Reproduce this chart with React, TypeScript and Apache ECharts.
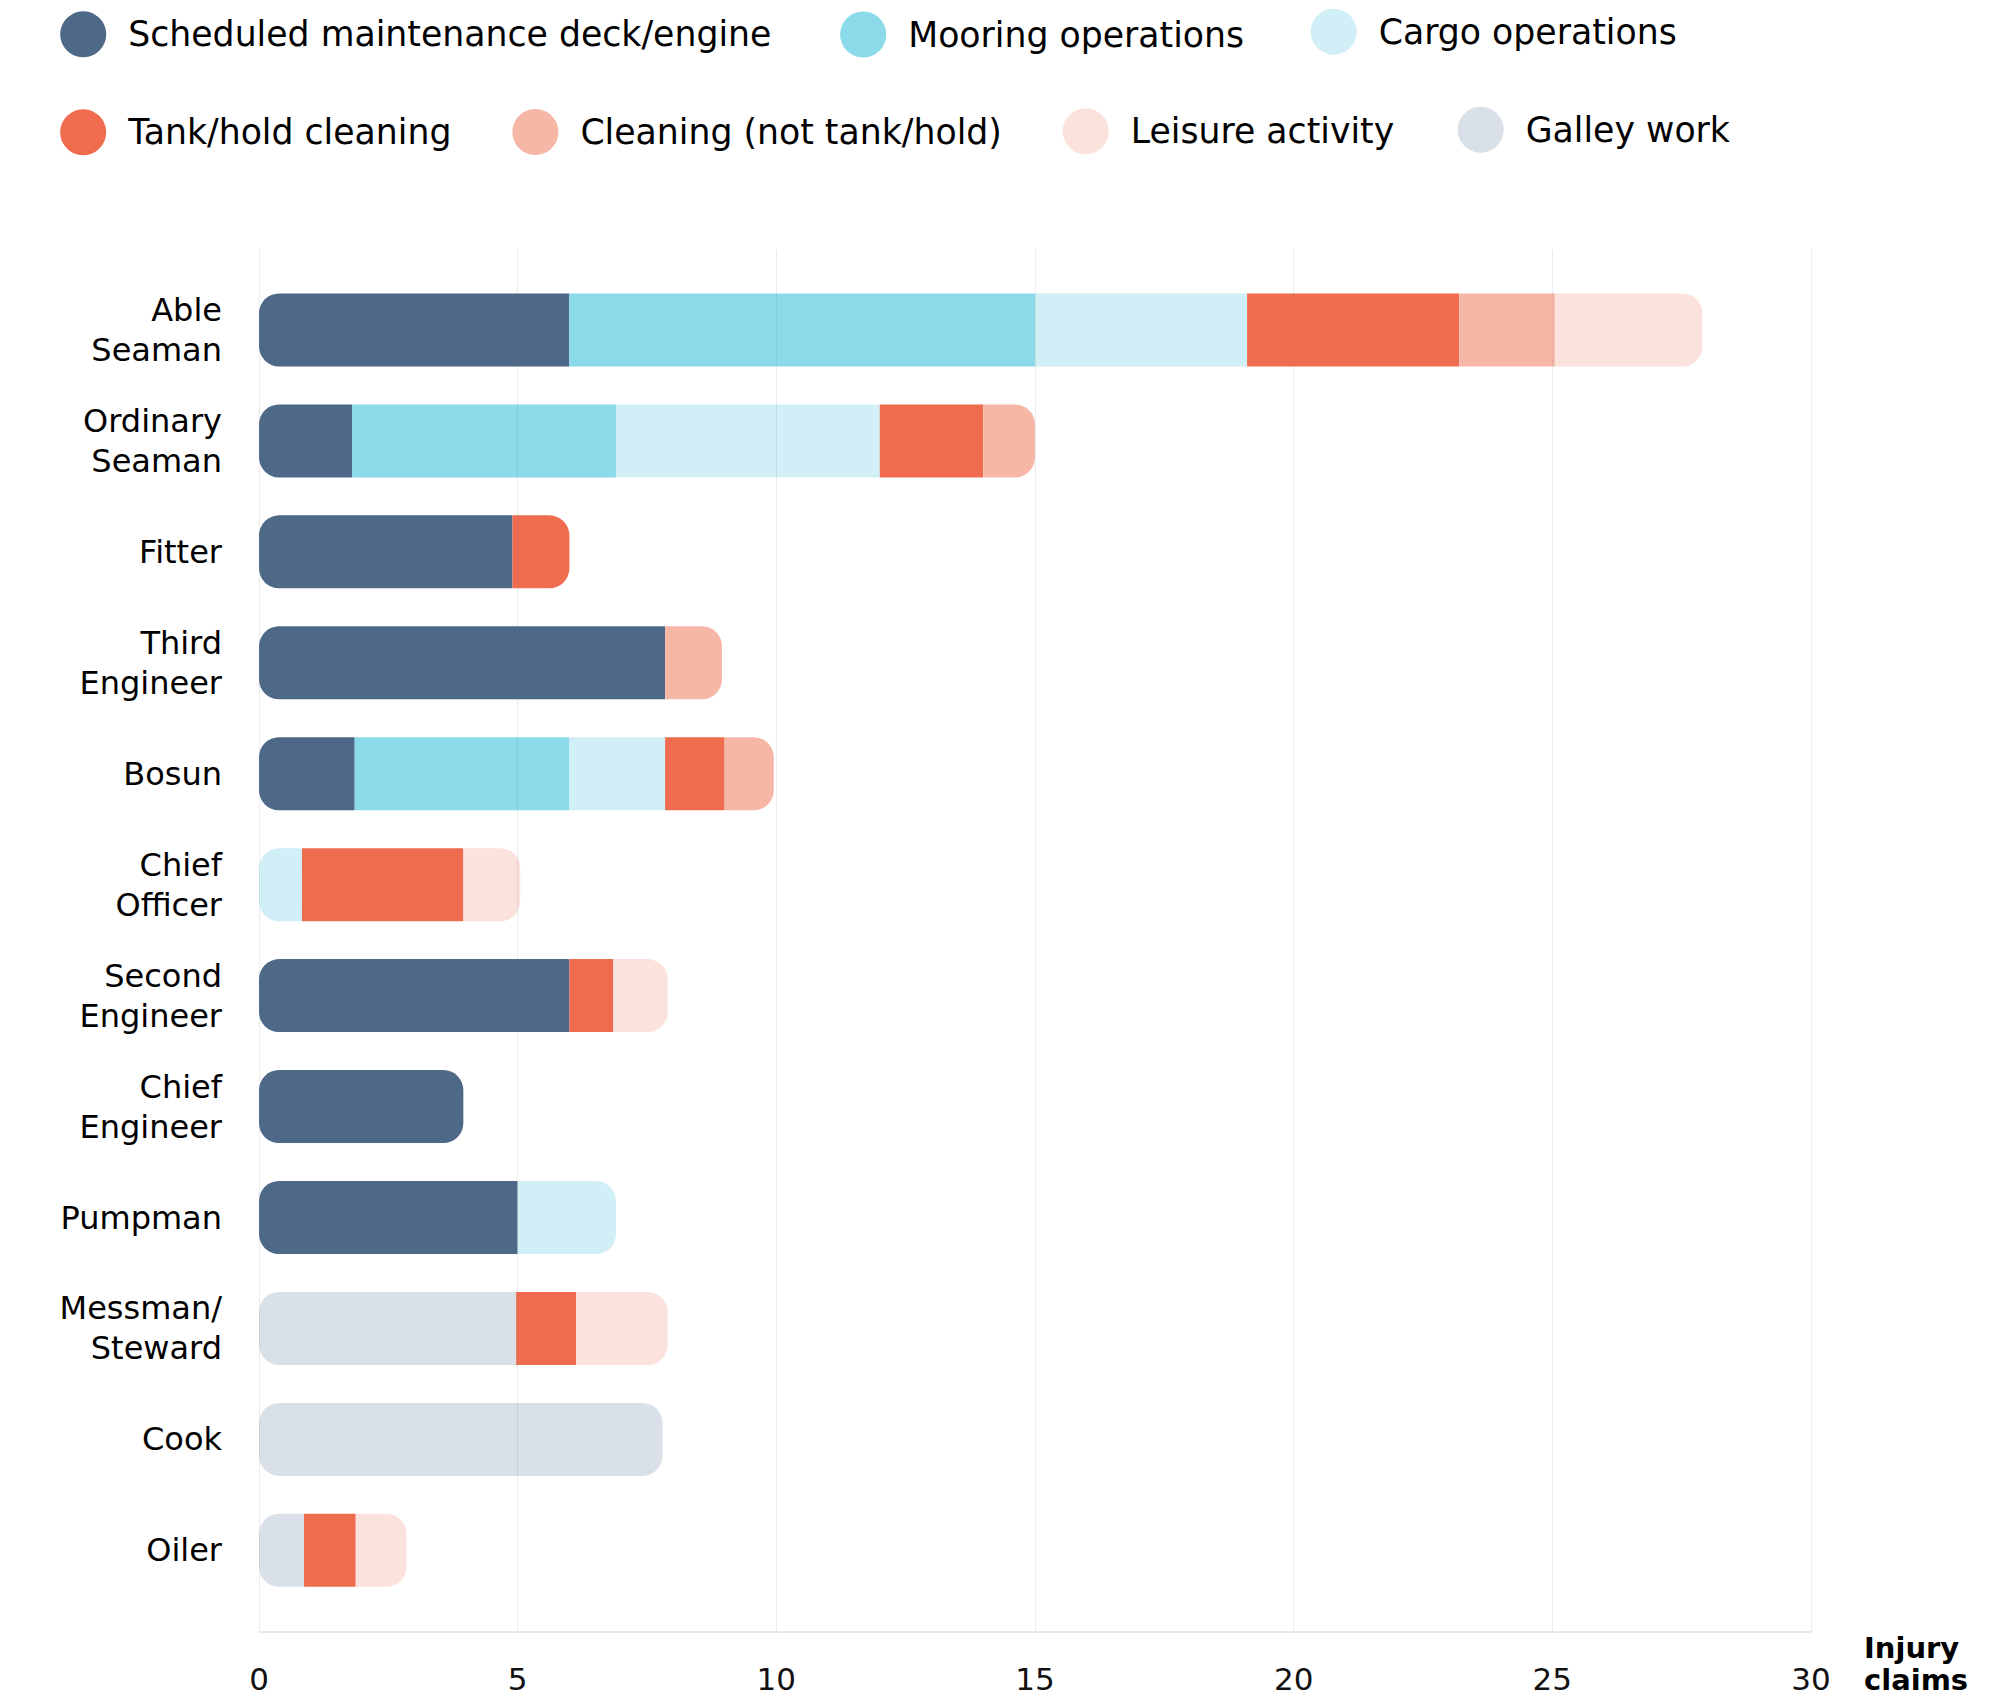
import React, { useEffect, useRef } from "react";
import * as echarts from "echarts";

const categories = [
  "Able\nSeaman",
  "Ordinary\nSeaman",
  "Fitter",
  "Third\nEngineer",
  "Bosun",
  "Chief\nOfficer",
  "Second\nEngineer",
  "Chief\nEngineer",
  "Pumpman",
  "Messman/\nSteward",
  "Cook",
  "Oiler",
];

const scheduled = [6.0, 1.8, 4.9, 7.85, 1.85, 0, 6.0, 3.95, 5.0, 0, 0, 0];
const mooring = [9.0, 5.1, 0, 0, 4.15, 0, 0, 0, 0, 0, 0, 0];
const cargo = [4.1, 5.1, 0, 0, 1.85, 0.83, 0, 0, 1.9, 0, 0, 0];
const galley = [0, 0, 0, 0, 0, 0, 0, 0, 0, 4.97, 7.8, 0.87];
const tank = [4.1, 2.0, 1.1, 0, 1.15, 3.12, 0.85, 0, 0, 1.16, 0, 1.0];
const cleaning = [1.85, 1.0, 0, 1.1, 0.95, 0, 0, 0, 0, 0, 0, 0];
const leisure = [2.85, 0, 0, 0, 0, 1.1, 1.05, 0, 0, 1.77, 0, 0.98];

const xTicks = { min: 0, max: 30, interval: 5 };

const seriesDefs = [
  { name: "Scheduled maintenance deck/engine", color: "#4d6987", values: scheduled },
  { name: "Mooring operations", color: "#8adaea", values: mooring },
  { name: "Cargo operations", color: "#d0eff6", values: cargo },
  { name: "Galley work", color: "#d9e0e8", values: galley },
  { name: "Tank/hold cleaning", color: "#ef6c4f", values: tank },
  { name: "Cleaning (not tank/hold)", color: "#f7b7a7", values: cleaning },
  { name: "Leisure activity", color: "#fce2dc", values: leisure },
];

// legend layout: [name, circle centre x, circle centre y]
const legendItems: [string, number, number][] = [
  ["Scheduled maintenance deck/engine", 83.5, 34.3],
  ["Mooring operations", 863.5, 34.5],
  ["Cargo operations", 1334, 31.7],
  ["Tank/hold cleaning", 83.5, 132.3],
  ["Cleaning (not tank/hold)", 535.7, 132],
  ["Leisure activity", 1086, 131.3],
  ["Galley work", 1481, 129.7],
];

const FONT = '"DejaVu Sans", sans-serif';
const RADIUS = 20;
const GRID_LEFT = 259;
const GRID_WIDTH = 1552;

function buildSeries() {
  const n = categories.length;
  const first: number[] = [];
  const last: number[] = [];
  for (let i = 0; i < n; i++) {
    let f = -1;
    let l = -1;
    seriesDefs.forEach((s, si) => {
      if (s.values[i] > 0) {
        if (f < 0) f = si;
        l = si;
      }
    });
    first.push(f);
    last.push(l);
  }
  return seriesDefs.map((s, si) => ({
    type: "bar",
    name: s.name,
    stack: "total",
    xAxisIndex: 1,
    yAxisIndex: 1,
    barWidth: 73,
    itemStyle: { color: s.color },
    emphasis: { disabled: true },
    data: s.values.map((v, i) => {
      const isFirst = first[i] === si;
      const isLast = last[i] === si;
      const r = [
        isFirst ? RADIUS : 0,
        isLast ? RADIUS : 0,
        isLast ? RADIUS : 0,
        isFirst ? RADIUS : 0,
      ];
      return { value: v, itemStyle: { borderRadius: r } };
    }),
  }));
}

export default function App() {
  const ref = useRef<HTMLDivElement>(null);
  useEffect(() => {
    if (!ref.current) return;
    const chart = echarts.init(ref.current, null, { renderer: "svg" });
    const legends = legendItems.map(([name, cx, cy]) => ({
      data: [name],
      left: cx - 28.3,
      top: cy - 28,
      icon: "circle",
      itemWidth: 80,
      itemHeight: 46,
      padding: 5,
      textStyle: { fontFamily: FONT, fontSize: 34.7, color: "#000" },
    }));
    const option: any = {
      animation: false,
      backgroundColor: "#ffffff",
      textStyle: { fontFamily: FONT },
      legend: legends,
      grid: [
        {
          left: GRID_LEFT,
          width: GRID_WIDTH,
          top: 250,
          height: 1382,
          containLabel: false,
          outerBoundsMode: "none",
        },
        {
          left: GRID_LEFT,
          width: GRID_WIDTH,
          top: 274.5,
          height: 1331.3,
          containLabel: false,
          outerBoundsMode: "none",
        },
      ],
      xAxis: [
        {
          type: "value",
          gridIndex: 0,
          min: xTicks.min,
          max: xTicks.max,
          interval: xTicks.interval,
          z: 5,
          name: "Injury\nclaims",
          nameLocation: "end",
          nameGap: 53,
          nameTextStyle: {
            fontFamily: FONT,
            fontSize: 29,
            fontWeight: "bold",
            color: "#000",
            lineHeight: 32,
            align: "left",
            verticalAlign: "top",
          },
          axisLine: { show: true, lineStyle: { color: "#e8e9ec", width: 2 } },
          axisTick: { show: false },
          axisLabel: {
            fontFamily: FONT,
            fontSize: 31,
            color: "#111",
            margin: 31,
          },
          splitLine: {
            show: true,
            lineStyle: { color: "rgba(128,128,128,0.15)", width: 1 },
          },
        },
        {
          type: "value",
          gridIndex: 1,
          min: xTicks.min,
          max: xTicks.max,
          show: false,
        },
      ],
      yAxis: [
        { type: "category", gridIndex: 0, data: [], show: false },
        {
          type: "category",
          gridIndex: 1,
          inverse: true,
          data: categories,
          axisLine: { show: false },
          axisTick: { show: false },
          splitLine: { show: false },
          axisLabel: {
            fontFamily: FONT,
            fontSize: 32,
            lineHeight: 40,
            color: "#000",
            margin: 37,
            align: "right",
          },
        },
      ],
      series: buildSeries(),
    };
    chart.setOption(option);
    return () => chart.dispose();
  }, []);
  return (
    <div
      ref={ref}
      style={{ position: "absolute", left: 0, top: 0, width: 2013, height: 1698 }}
    />
  );
}
